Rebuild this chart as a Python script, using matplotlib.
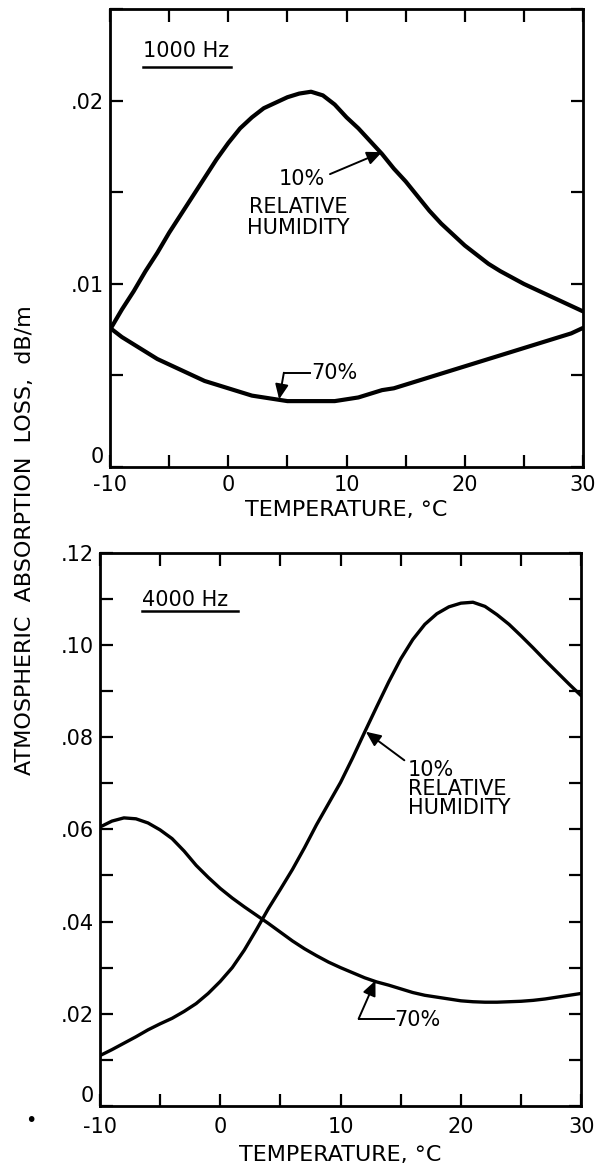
import numpy as np
import matplotlib
matplotlib.use("Agg")
import matplotlib.pyplot as plt
from matplotlib.ticker import MultipleLocator, FuncFormatter

# temperature, deg C (one reading per degree)
temp = list(range(-10, 31))

# 1000 Hz, dB/m
loss_1000_rh10 = [0.0075, 0.0086, 0.0096, 0.0107, 0.0117, 0.0128, 0.0138,
                  0.0148, 0.0158, 0.0168, 0.0177, 0.0185, 0.0191, 0.0196,
                  0.0199, 0.0202, 0.0204, 0.0205, 0.0203, 0.0198, 0.0191,
                  0.0185, 0.0178, 0.0171, 0.0163, 0.0156, 0.0148, 0.0140,
                  0.0133, 0.0127, 0.0121, 0.0116, 0.0111, 0.0107, 0.01035,
                  0.0100, 0.0097, 0.0094, 0.0091, 0.0088, 0.0085]
loss_1000_rh70 = [0.0076, 0.0071, 0.0067, 0.0063, 0.0059, 0.0056, 0.0053,
                  0.0050, 0.0047, 0.0045, 0.0043, 0.0041, 0.0039, 0.0038,
                  0.0037, 0.0036, 0.0036, 0.0036, 0.0036, 0.0036, 0.0037,
                  0.0038, 0.0040, 0.0042, 0.0043, 0.0045, 0.0047, 0.0049,
                  0.0051, 0.0053, 0.0055, 0.0057, 0.0059, 0.0061, 0.0063,
                  0.0065, 0.0067, 0.0069, 0.0071, 0.0073, 0.0076]

# 4000 Hz, dB/m
loss_4000_rh10 = [0.0109, 0.0122, 0.0136, 0.0150, 0.0165, 0.0178, 0.0190,
                  0.0205, 0.0222, 0.0244, 0.0270, 0.0300, 0.0338, 0.0382,
                  0.0428, 0.0470, 0.0513, 0.0560, 0.0610, 0.0656, 0.0702,
                  0.0755, 0.0811, 0.0866, 0.0920, 0.0970, 0.1012, 0.1045,
                  0.1068, 0.1083, 0.1091, 0.1093, 0.1084, 0.1066, 0.1045,
                  0.1020, 0.0994, 0.0967, 0.0941, 0.0915, 0.0890]
loss_4000_rh70 = [0.0605, 0.0618, 0.0625, 0.0623, 0.0614, 0.0599, 0.0580,
                  0.0553, 0.0522, 0.0496, 0.0472, 0.0451, 0.0432, 0.0414,
                  0.0396, 0.0377, 0.0358, 0.0341, 0.0326, 0.0312, 0.0300,
                  0.0289, 0.0278, 0.0269, 0.0262, 0.0254, 0.0246, 0.0240,
                  0.0236, 0.0232, 0.0228, 0.0226, 0.0225, 0.0225, 0.0226,
                  0.0227, 0.0229, 0.0232, 0.0236, 0.0240, 0.0244]

plt.rcParams['font.family'] = ['DejaVu Sans']
FS = 15
ARROW = dict(arrowstyle='-|>,head_length=0.9,head_width=0.4',
             color='black', lw=1.4, shrinkA=0, shrinkB=0)


def dot_label(v):
    if abs(v) < 1e-9:
        return "0"
    return ("%.2f" % v)[1:]


def setup_axes(ax, ymax, ystep, ylabel_step, xpad, labelpad):
    ax.set_xlim(-10, 30)
    ax.set_ylim(0, ymax)
    ax.xaxis.set_major_locator(MultipleLocator(5))
    ax.yaxis.set_major_locator(MultipleLocator(ystep))
    ax.xaxis.set_major_formatter(FuncFormatter(
        lambda v, p: "%d" % v if round(v) % 10 == 0 else ""))
    ax.yaxis.set_major_formatter(FuncFormatter(
        lambda v, p: dot_label(v)
        if abs(v / ylabel_step - round(v / ylabel_step)) < 1e-6 else ""))
    ax.tick_params(direction='in', length=9, width=1.6, top=True, right=True,
                   labelsize=FS)
    ax.tick_params(axis='y', pad=4.5)
    ax.tick_params(axis='x', pad=xpad)
    for s in ax.spines.values():
        s.set_linewidth(2)
    ax.set_xlabel("TEMPERATURE, °C", fontsize=16, labelpad=labelpad)


fig = plt.figure(figsize=(5.98, 11.69), dpi=100)
ax1 = fig.add_axes([0.184, 0.6005, 0.791, 0.3915])
ax2 = fig.add_axes([0.167, 0.054, 0.805, 0.473])

# top panel, 1000 Hz
setup_axes(ax1, 0.025, 0.005, 0.01, 5.5, 4)
ax1.plot(temp, loss_1000_rh10, color='black', lw=3, solid_capstyle='round')
ax1.plot(temp, loss_1000_rh70, color='black', lw=3, solid_capstyle='round')
ax1.text(-7.2, 0.0227, "1000 Hz", fontsize=FS, va='center', ha='left')
ax1.plot([-7.2, 0.2], [0.02185, 0.02185], color='black', lw=1.8)

ax1.text(6.2, 0.01575, "10%", fontsize=FS, ha='center', va='center')
ax1.text(5.9, 0.0142, "RELATIVE", fontsize=FS, ha='center', va='center')
ax1.text(5.9, 0.01305, "HUMIDITY", fontsize=FS, ha='center', va='center')
ax1.annotate("", xy=(13.0, 0.0172), xytext=(8.6, 0.0160), arrowprops=ARROW)

ax1.text(7.0, 0.00515, "70%", fontsize=FS, ha='left', va='center')
ax1.plot([4.7, 6.9], [0.00515, 0.00515], color='black', lw=1.4)
ax1.annotate("", xy=(4.3, 0.0037), xytext=(4.7, 0.00515), arrowprops=ARROW)

# bottom panel, 4000 Hz
setup_axes(ax2, 0.12, 0.01, 0.02, 8, 6)
ax2.plot(temp, loss_4000_rh10, color='black', lw=2.4, solid_capstyle='round')
ax2.plot(temp, loss_4000_rh70, color='black', lw=2.4, solid_capstyle='round')
ax2.text(-6.5, 0.1098, "4000 Hz", fontsize=FS, va='center', ha='left')
ax2.plot([-6.5, 1.5], [0.1074, 0.1074], color='black', lw=1.8)

ax2.text(15.6, 0.0729, "10%", fontsize=FS, ha='left', va='center')
ax2.text(15.6, 0.0687, "RELATIVE", fontsize=FS, ha='left', va='center')
ax2.text(15.6, 0.0647, "HUMIDITY", fontsize=FS, ha='left', va='center')
ax2.annotate("", xy=(12.1, 0.0812), xytext=(15.3, 0.0750), arrowprops=ARROW)

ax2.text(14.5, 0.0186, "70%", fontsize=FS, ha='left', va='center')
ax2.plot([11.5, 14.4], [0.0189, 0.0189], color='black', lw=1.4)
ax2.annotate("", xy=(12.9, 0.0272), xytext=(11.5, 0.0189), arrowprops=ARROW)

fig.text(0.042, 0.538, "ATMOSPHERIC  ABSORPTION  LOSS,  dB/m", rotation=90,
         fontsize=16, ha='center', va='center')
fig.text(0.052, 1 - 1120 / 1169, "•", fontsize=14, ha='center', va='center')

# the "0" labels sit just above the bottom spine, clear of "-10"
fig.canvas.draw()
for ax in (ax1, ax2):
    for t in ax.yaxis.get_major_ticks():
        if abs(t.get_loc()) < 1e-12:
            t.label1.set_verticalalignment('bottom')

fig.savefig("out.png", dpi=100)
